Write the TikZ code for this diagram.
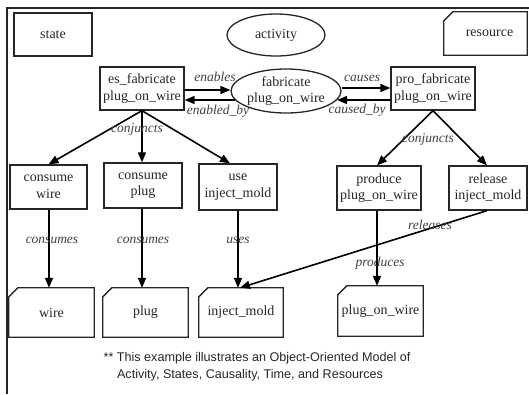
\documentclass[tikz,border=0pt]{standalone}
\usepackage{fontspec}
\setmainfont{Liberation Serif}
\newfontfamily\capfont{Liberation Sans}
\usetikzlibrary{arrows.meta,calc,shapes.geometric}
\tikzset{
  txt/.style={font=\fontsize{14}{16.5}\selectfont, text=black!85, align=center, inner sep=0pt},
  box/.style={txt, draw=black!85, line width=1.3pt, rectangle},
  ell/.style={txt, draw=black!85, line width=1.3pt, ellipse},
  res/.style={txt, rectangle},
  resline/.style={draw=black!85, line width=1.3pt},
  lab/.style={font=\fontsize{13.5}{15}\selectfont\itshape, text=black!75, inner sep=0pt},
  arr/.style={line width=1.6pt, -{Triangle[length=10pt,width=8pt]}},
  captxt/.style={font=\capfont\fontsize{12.6}{15}\selectfont, text=black!85, inner sep=0pt}
}
\begin{document}
\begin{tikzpicture}[x=1pt,y=-1pt]
\useasboundingbox (0,0) rectangle (529,394);
\draw[line width=1.6pt, black!85] (7,394) -- (7,8) -- (529,8);

% legend
\node[box, minimum width=78pt, minimum height=43pt] (state) at (53,34.5) {state};
\node[ell, minimum width=98pt, minimum height=42pt] (activity) at (276,35) {activity};
\node[res, minimum width=83pt, minimum height=43pt] (resource) at (485.5,33.5) {\hspace*{8pt}resource};

% top row
\node[box, minimum width=84pt, minimum height=43pt] (es) at (142,88.5) {es\_fabricate\\plug\_on\_wire};
\node[ell, minimum width=98pt, minimum height=44pt] (fab) at (286,91) {fabricate\\plug\_on\_wire};
\node[box, minimum width=84pt, minimum height=43pt] (pro) at (433,88.5) {pro\_fabricate\\plug\_on\_wire};

% middle row
\node[box, minimum width=77pt, minimum height=44pt] (cw) at (48.5,187) {consume\\wire};
\node[box, minimum width=78pt, minimum height=45pt] (cp) at (143,185.5) {consume\\plug};
\node[box, minimum width=78pt, minimum height=46pt] (use) at (238,187) {use\\inject\_mold};
\node[box, minimum width=84pt, minimum height=44pt] (prod) at (379,188) {produce\\plug\_on\_wire};
\node[box, minimum width=78pt, minimum height=44pt] (rel) at (488,188) {release\\inject\_mold};

% resources
\node[res, minimum width=85pt, minimum height=49pt] (wire) at (51.5,312.5) {wire};
\node[res, minimum width=85pt, minimum height=49pt] (plug) at (145.5,312.5) {plug};
\node[res, minimum width=84pt, minimum height=49pt] (injm) at (241,312.5) {inject\_mold};
\node[res, minimum width=85pt, minimum height=50pt] (pow) at (380.5,311) {plug\_on\_wire};
\foreach \n in {resource,wire,plug,injm,pow}
  \draw[resline] ([xshift=9pt]\n.north west) -- (\n.north east) -- (\n.south east)
     -- (\n.south west) -- ([yshift=-9pt]\n.north west) -- cycle;

% enables / enabled_by
\coordinate (e1) at ($(es.east)+(0,1.5)$);
\draw[arr] (e1) -- (e1 -| fab.west);
\draw[arr] (fab.190) -- (fab.190 -| es.east);
\node[lab] (lenab) at (215,77) {enables};
\node[lab] (lenby) at (218,111) {enabled\_by};

% causes / caused_by
\coordinate (c1) at ($(pro.west)+(0,-0.5)$);
\draw[arr] (c1 -| fab.east) -- (c1);
\draw[arr] (fab.350 -| pro.west) -- (fab.350);
\node[lab] (lcaus) at (362,78) {causes};
\node[lab] (lcby) at (357,110) {caused\_by};

% conjuncts
\draw[arr] (es.south) -- (cw.north);
\draw[arr] (es.south) -- (es.south |- cp.north);
\draw[arr] (es.south) -- ([xshift=-8pt]use.north);
\node[lab] (lconj1) at (137,129) {conjuncts};
\draw[arr] (pro.south) -- ([xshift=-2pt]prod.north);
\draw[arr] (pro.south) -- ([xshift=-1pt]rel.north);
\node[lab] (lconj2) at (428,139) {conjuncts};

% resource links
\draw[arr] ([xshift=0.5pt]cw.south) -- ([xshift=0.5pt]cw.south |- wire.north);
\node[lab] (lcons1) at (52,240) {consumes};
\draw[arr] ([xshift=-1pt]cp.south) -- ([xshift=-1pt]cp.south |- plug.north);
\node[lab] (lcons2) at (143,240) {consumes};
\draw[arr] (use.south) -- (use.south |- injm.north);
\node[lab] (luses) at (238,240) {uses};
\draw[arr] ([xshift=-2pt]prod.south) -- ([xshift=-2pt]prod.south |- pow.north);
\node[lab] (lprod) at (380,263) {produces};
\draw[arr] ([xshift=-1pt]rel.south) -- ([xshift=2pt]use.south |- injm.north);
\node[lab] (lrel) at (430,225) {releases};

% caption
\node[captxt] (cap1) at (257,358) {** This example illustrates an Object-Oriented Model of};
\node[captxt] (cap2) at (250,375) {Activity, States, Causality, Time, and Resources};
\end{tikzpicture}
\end{document}
